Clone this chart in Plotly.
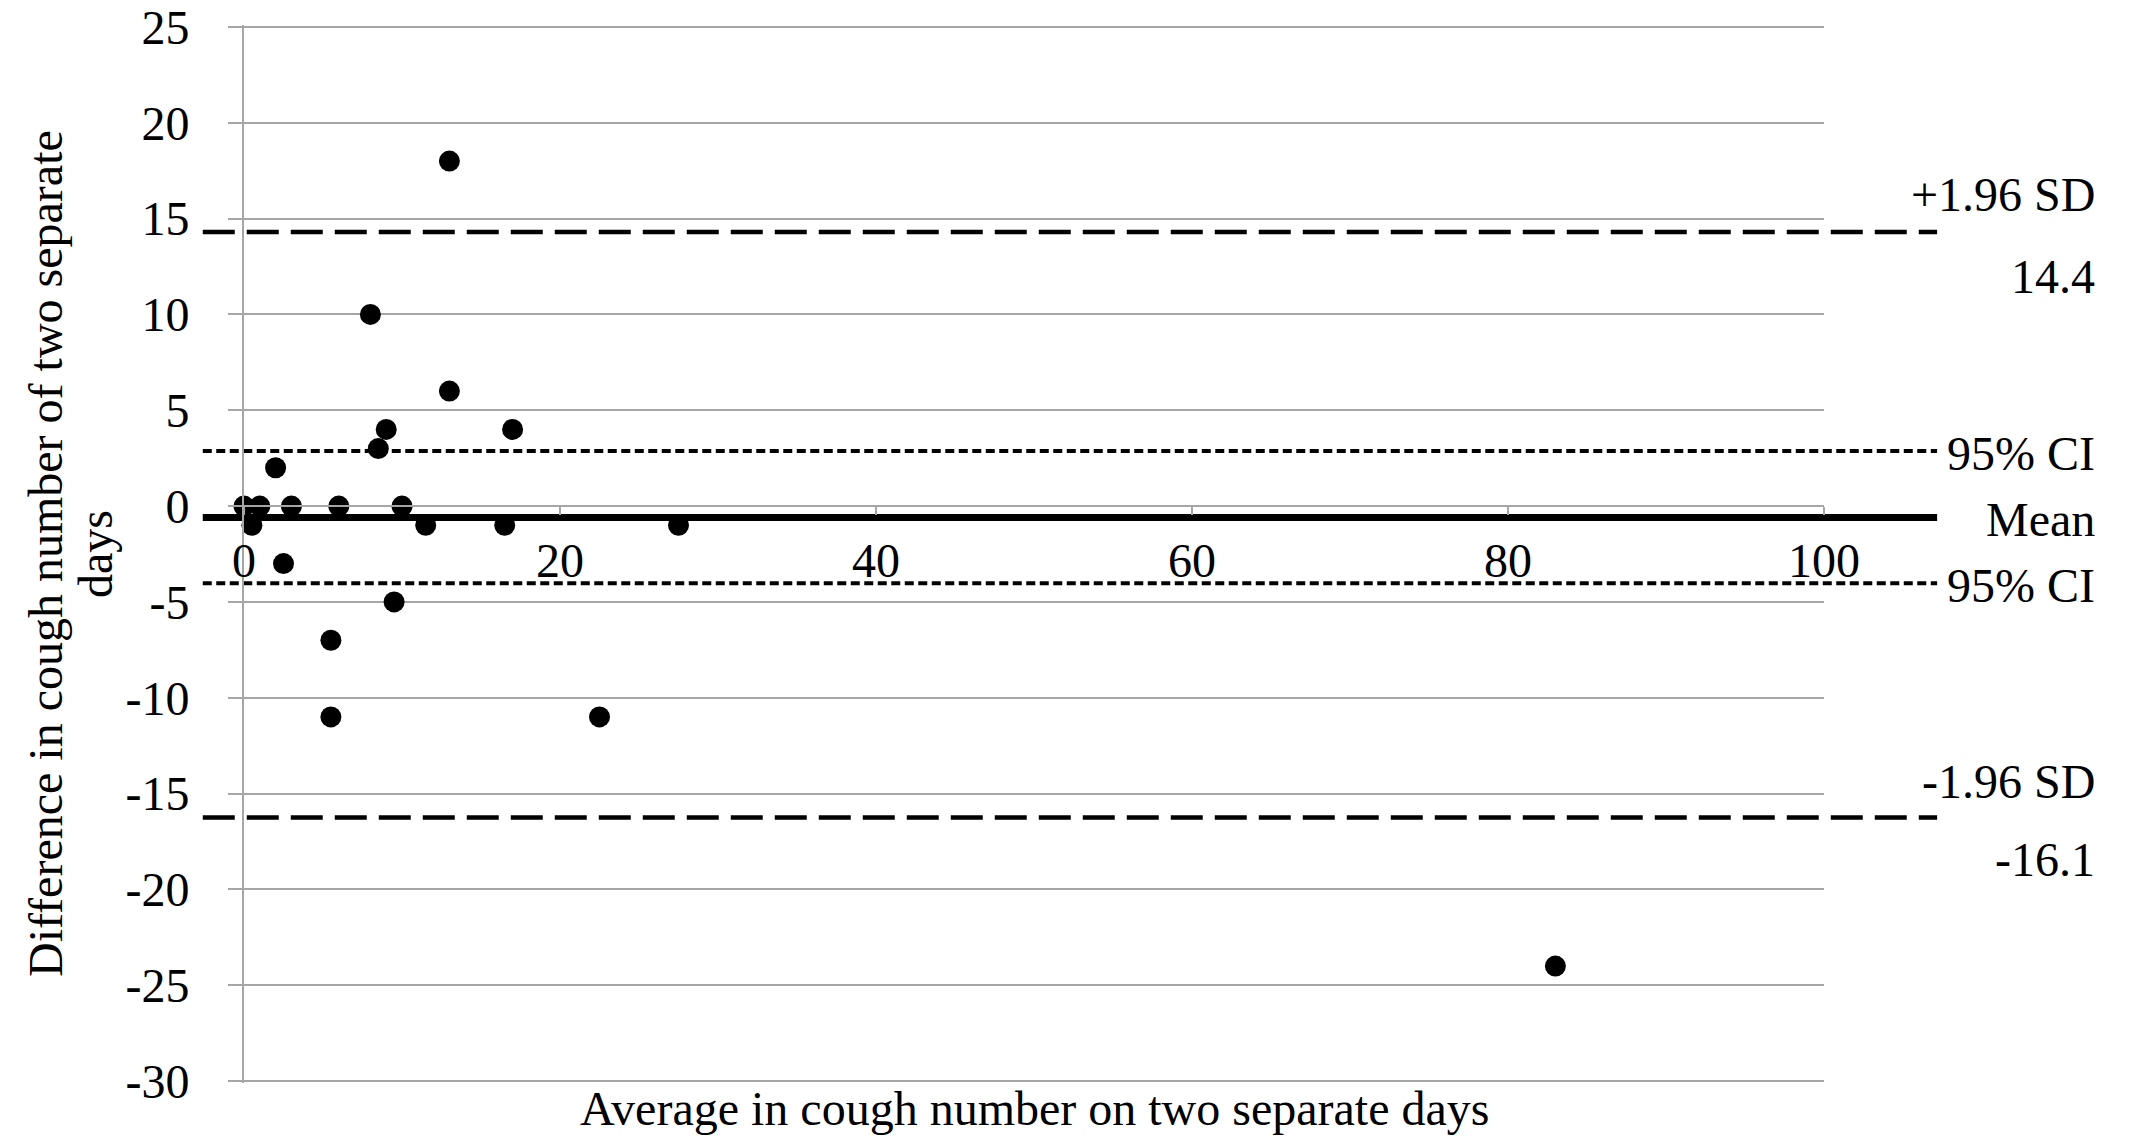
import plotly.graph_objects as go

# Data (Bland-Altman plot)
avg_cough = [0, 0.5, 1, 2, 2.5, 3, 5.5, 5.5, 6, 8, 8.5, 9, 9.5, 10, 11.5, 13, 13, 16.5, 17, 22.5, 27.5, 83]
diff_cough = [0, -1, 0, 2, -3, 0, -7, -11, 0, 10, 3, 4, -5, 0, -1, 18, 6, -1, 4, -11, -1, -24]

mean_diff = -0.6
ci_upper = 2.87
ci_lower = -4.03
sd_upper = 14.3
sd_lower = -16.25
sd_upper_label = "14.4"
sd_lower_label = "-16.1"

x_ticks = [0, 20, 40, 60, 80, 100]
x_ticktext = ["0", "20", "40", "60", "80", "100"]
y_ticks = [25, 20, 15, 10, 5, 0, -5, -10, -15, -20, -25, -30]
y_ticktext = ["25", "20", "15", "10", "5", "0", "-5", "-10", "-15", "-20", "-25", "-30"]

FONT = "Liberation Serif"
FS = 48
GRID = "#a6a6a6"

# page body has an 8px margin; compensate
W, H = 2131 - 16, 1143 - 16
L, T = 236, 17
PW, PH = 1580, 1058
Y_RANGE = [-30.1, 25.1]

fig = go.Figure()
fig.add_trace(go.Scatter(
    x=avg_cough, y=diff_cough, mode="markers",
    marker=dict(color="black", size=21),
    cliponaxis=False, showlegend=False,
))

x0p, x1p = -0.0261, 1.0716
lines = [
    (sd_upper, dict(color="black", width=4.5, dash="32px,12px")),
    (ci_upper, dict(color="black", width=4, dash="9px,4.5px")),
    (mean_diff, dict(color="black", width=7)),
    (ci_lower, dict(color="black", width=4, dash="9px,4.5px")),
    (sd_lower, dict(color="black", width=4.5, dash="32px,12px")),
]
for yv, ln in lines:
    fig.add_shape(type="line", xref="paper", yref="y", x0=x0p, x1=x1p, y0=yv, y1=yv,
                  line=ln, layer="below")

lab_x = 1.1730
labels = [
    ("+1.96 SD", sd_upper, 38),
    (sd_upper_label, sd_upper, -44),
    ("95% CI", ci_upper, -2),
    ("Mean", mean_diff, -2),
    ("95% CI", ci_lower, -2),
    ("-1.96 SD", sd_lower, 36),
    (sd_lower_label, sd_lower, -42),
]
for txt, yv, ys in labels:
    fig.add_annotation(x=lab_x, xref="paper", y=yv, yref="y", text=txt, showarrow=False,
                       xanchor="right", yanchor="middle", yshift=ys,
                       font=dict(family=FONT, size=FS, color="black"))

fig.add_annotation(x=0.5, xref="paper", y=-0.0245, yref="paper",
                   text="Average in cough number on two separate days", showarrow=False,
                   xanchor="center", yanchor="middle", borderpad=0,
                   font=dict(family=FONT, size=FS, color="black"))
# y-axis title, two lines
fig.add_annotation(x=(45 - 244) / PW, xref="paper", y=0.5, yref="paper",
                   text="Difference in cough number of two separate", showarrow=False,
                   textangle=-90, xanchor="center", yanchor="middle",
                   font=dict(family=FONT, size=FS, color="black"))
fig.add_annotation(x=(95 - 244) / PW, xref="paper", y=0.5, yref="paper",
                   text="days", showarrow=False,
                   textangle=-90, xanchor="center", yanchor="middle",
                   font=dict(family=FONT, size=FS, color="black"))

fig.update_layout(
    width=W, height=H,
    margin=dict(l=L, r=W - L - PW, t=T, b=H - T - PH, autoexpand=False),
    paper_bgcolor="white", plot_bgcolor="white",
    font=dict(family=FONT, size=FS, color="black"),
    xaxis=dict(range=[0, 100], tickvals=x_ticks, ticktext=x_ticktext, showgrid=False, zeroline=False,
               anchor="free", position=(0 - Y_RANGE[0]) / (Y_RANGE[1] - Y_RANGE[0]),
               showline=True, linecolor=GRID, linewidth=2,
               ticks="outside", ticklen=8, tickcolor=GRID, tickwidth=2, automargin=False,
               ticklabeloverflow="allow",
               ticklabelstandoff=4, tickfont=dict(family=FONT, size=FS, color="black")),
    yaxis=dict(range=Y_RANGE, tickvals=y_ticks, ticktext=y_ticktext, showgrid=True,
               gridcolor=GRID, gridwidth=2, automargin=False, ticklabeloverflow="allow",
               zeroline=False, showline=True, linecolor=GRID, linewidth=2,
               ticks="outside", ticklen=14, tickcolor=GRID, tickwidth=2,
               ticklabelstandoff=29, tickfont=dict(family=FONT, size=FS, color="black")),
)

fig.write_html("out.html")
